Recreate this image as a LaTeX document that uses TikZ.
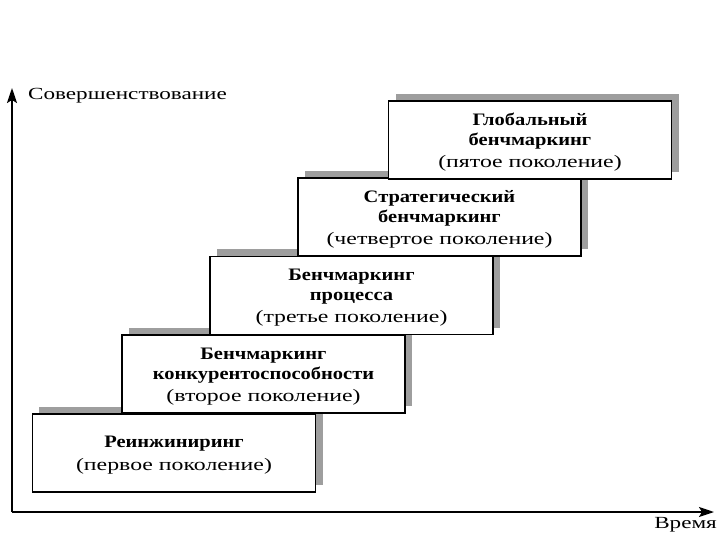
\documentclass[tikz,border=0pt]{standalone}
\usepackage{fontspec}
\setmainfont{Liberation Serif}[FakeStretch=1.36]
\newfontfamily\hdfont{Liberation Serif}[FakeStretch=1.17]
\newcommand{\hd}[1]{{\hdfont\bfseries #1}}
\usetikzlibrary{arrows.meta}
\tikzset{
  stage/.style={draw=black, line width=1.3bp, fill=white, minimum width=283bp, minimum height=78bp, inner sep=0pt},
  stagetext/.style={inner sep=0pt, align=center, font=\fontsize{17.5bp}{20bp}\selectfont, yshift=-2.5bp},
  shade/.style={fill=black!38, draw=none, minimum width=283bp, minimum height=78bp, inner sep=0pt},
  axis/.style={line width=1.8bp, -{Stealth[length=15bp,width=10bp,inset=3bp]}},
  axlabel/.style={font=\fontsize{17bp}{18bp}\selectfont, inner sep=0pt}
}
\begin{document}
\begin{tikzpicture}[x=1bp,y=-1bp]
\useasboundingbox (0,0) rectangle (720,540);
\node[shade] (s1) at (181,446) {};
\node[stage] (b1) at (174,453) {};
\node[stagetext] (t1) at (b1) {\hd{Реинжиниринг}\\[3bp](первое поколение)};
\node[shade] (s2) at (270.5,367) {};
\node[stage] (b2) at (263.5,374) {};
\node[stagetext] (t2) at (b2) {\hd{Бенчмаркинг}\\\hd{конкурентоспособности}\\[2bp](второе поколение)};
\node[shade] (s3) at (358.5,288.5) {};
\node[stage] (b3) at (351.5,295.5) {};
\node[stagetext] (t3) at (b3) {\hd{Бенчмаркинг}\\\hd{процесса}\\[2bp](третье поколение)};
\node[shade] (s4) at (446.5,210) {};
\node[stage] (b4) at (439.5,217) {};
\node[stagetext] (t4) at (b4) {\hd{Стратегический}\\\hd{бенчмаркинг}\\[2bp](четвертое поколение)};
\node[shade] (s5) at (537,133) {};
\node[stage] (b5) at (530,140) {};
\node[stagetext] (t5) at (b5) {\hd{Глобальный}\\\hd{бенчмаркинг}\\[2bp](пятое поколение)};
\coordinate (o) at (12,512);
\coordinate (ytip) at (12,88);
\coordinate (xtip) at (714,512);
\draw[axis] (o) -- (ytip);
\draw[axis] (o) -- (xtip);
\node[axlabel, anchor=base west] (yl) at (28,100) {Совершенствование};
\node[axlabel, anchor=base east] (xl) at (717,528) {Время};
\end{tikzpicture}
\end{document}
